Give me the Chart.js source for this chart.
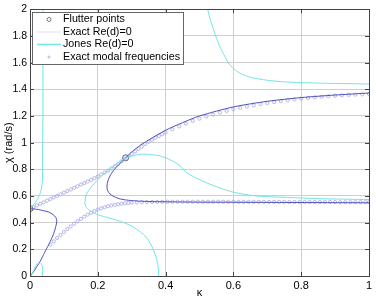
<!DOCTYPE html>
<html>
<head>
<meta charset="utf-8">
<script src="https://cdn.jsdelivr.net/npm/chart.js@4.4.1/dist/chart.umd.min.js"></script>
<style>
  html, body { margin: 0; padding: 0; background: #fff; }
  #wrap { width: 376px; height: 300px; }
</style>
</head>
<body>
<div id="wrap"><canvas id="flutter_chart" width="376" height="300"></canvas></div>
<script>
// values: kappa on x, chi (rad/s) on y

var flutterX = [0, 0.282];
var flutterY = [0.505, 0.886];

// Exact Re(d)=0, branch from the origin to the first flutter point
var exactLowX = [0, 0.01, 0.02, 0.03, 0.04, 0.05, 0.06, 0.07, 0.076, 0.079, 0.076, 0.068, 0.055, 0.04, 0.02, 0];
var exactLowY = [0, 0.03, 0.07, 0.11, 0.16, 0.21, 0.26, 0.32, 0.37, 0.41, 0.44, 0.46, 0.48, 0.49, 0.5, 0.505];

// Exact Re(d)=0, branch through the second flutter point
var exactHiX = [1, 0.9, 0.8, 0.7, 0.6, 0.5, 0.45, 0.4, 0.35, 0.325, 0.3, 0.282, 0.262, 0.246, 0.236, 0.23, 0.227, 0.229, 0.236, 0.248, 0.266, 0.29, 0.32, 0.36, 0.42, 0.5, 0.6, 0.7, 0.8, 0.9, 1];
var exactHiY = [1.372, 1.357, 1.338, 1.31, 1.268, 1.2, 1.15, 1.093, 1.02, 0.98, 0.93, 0.886, 0.835, 0.79, 0.75, 0.715, 0.675, 0.64, 0.615, 0.595, 0.578, 0.568, 0.562, 0.558, 0.556, 0.554, 0.553, 0.552, 0.551, 0.55, 0.549];

// Jones Re(d)=0
var jonesAX = [0.038, 0.038, 0.038, 0.037, 0.037, 0.036, 0.034, 0.03, 0.022, 0.012, 0.004, 0];
var jonesAY = [2.0, 1.6, 1.2, 0.9, 0.75, 0.7, 0.66, 0.62, 0.575, 0.54, 0.515, 0.505];
var jonesBX = [0.003, 0.012, 0.02, 0.03, 0.036, 0.037, 0.037];
var jonesBY = [0, 0.05, 0.09, 0.095, 0.08, 0.04, 0];
var jonesCX = [0.38, 0.378, 0.372, 0.36, 0.34, 0.318, 0.295, 0.266, 0.227, 0.197, 0.177, 0.165, 0.162, 0.167, 0.185, 0.207, 0.24, 0.276, 0.3, 0.325, 0.35, 0.384, 0.415, 0.443, 0.461, 0.49, 0.52, 0.56, 0.6, 0.658, 0.7, 0.756, 0.85, 1];
var jonesCY = [0, 0.07, 0.14, 0.22, 0.3, 0.345, 0.38, 0.41, 0.44, 0.462, 0.49, 0.52, 0.553, 0.616, 0.68, 0.74, 0.81, 0.876, 0.9, 0.913, 0.912, 0.9, 0.87, 0.826, 0.777, 0.735, 0.7, 0.66, 0.628, 0.603, 0.595, 0.59, 0.58, 0.573];
var jonesDX = [0.524, 0.532, 0.54, 0.548, 0.56, 0.572, 0.585, 0.6, 0.62, 0.65, 0.7, 0.75, 0.8, 0.9, 1];
var jonesDY = [2.0, 1.92, 1.86, 1.8, 1.72, 1.66, 1.6, 1.555, 1.52, 1.49, 1.468, 1.456, 1.45, 1.444, 1.44];

// Exact modal frequencies, upper branch
var modalHiX = [0, 0.01, 0.02, 0.03, 0.04, 0.05, 0.06, 0.07, 0.08, 0.09, 0.1, 0.11, 0.12, 0.13, 0.14, 0.15, 0.16, 0.17, 0.18, 0.19, 0.2,
  0.21, 0.22, 0.23, 0.24, 0.25, 0.26, 0.27, 0.28, 0.29, 0.3, 0.31, 0.32, 0.33, 0.34, 0.35, 0.36, 0.37, 0.38, 0.39, 0.4,
  0.42, 0.44, 0.46, 0.48, 0.5, 0.52, 0.54, 0.56, 0.58, 0.6, 0.62, 0.64, 0.66, 0.68, 0.7, 0.72, 0.74, 0.76, 0.78, 0.8,
  0.82, 0.84, 0.86, 0.88, 0.9, 0.92, 0.94, 0.96, 0.98, 1];
var modalHiY = [0.505, 0.517, 0.529, 0.541, 0.553, 0.565, 0.577, 0.589, 0.601, 0.613, 0.625, 0.637, 0.649, 0.661, 0.673, 0.685, 0.697, 0.709, 0.721, 0.734, 0.747,
  0.761, 0.775, 0.79, 0.806, 0.823, 0.841, 0.86, 0.88, 0.898, 0.915, 0.934, 0.952, 0.971, 0.99, 1.006, 1.022, 1.036, 1.05, 1.063, 1.076,
  1.1, 1.122, 1.143, 1.163, 1.18, 1.196, 1.211, 1.225, 1.238, 1.25, 1.261, 1.271, 1.28, 1.289, 1.297, 1.304, 1.311, 1.318, 1.324, 1.33,
  1.335, 1.34, 1.344, 1.348, 1.352, 1.355, 1.358, 1.36, 1.362, 1.364];

// Exact modal frequencies, lower branch
var modalLoX = [0.06, 0.07, 0.08, 0.09, 0.1, 0.11, 0.12, 0.13, 0.14, 0.15, 0.16, 0.17, 0.18, 0.19, 0.2, 0.21, 0.22, 0.23, 0.24, 0.25,
  0.26, 0.27, 0.28, 0.29, 0.3, 0.315, 0.33, 0.345, 0.36, 0.375, 0.39, 0.405, 0.42, 0.435, 0.45, 0.465, 0.48, 0.495, 0.51, 0.525,
  0.54, 0.555, 0.57, 0.585, 0.6, 0.615, 0.63, 0.645, 0.66, 0.675, 0.69, 0.705, 0.72, 0.735, 0.75, 0.765, 0.78, 0.795, 0.81, 0.825,
  0.84, 0.855, 0.87, 0.885, 0.9, 0.915, 0.93, 0.945, 0.96, 0.975, 0.99, 1];
var modalLoY = [0.235, 0.26, 0.285, 0.308, 0.33, 0.352, 0.372, 0.392, 0.411, 0.428, 0.445, 0.46, 0.474, 0.487, 0.498, 0.508, 0.516, 0.523, 0.529, 0.534,
  0.538, 0.542, 0.545, 0.548, 0.55, 0.552, 0.553, 0.554, 0.555, 0.556, 0.556, 0.557, 0.557, 0.557, 0.557, 0.557, 0.557, 0.557, 0.557, 0.557,
  0.557, 0.557, 0.557, 0.557, 0.557, 0.556, 0.556, 0.556, 0.556, 0.556, 0.556, 0.556, 0.556, 0.556, 0.556, 0.555, 0.555, 0.555, 0.555, 0.555,
  0.555, 0.555, 0.555, 0.555, 0.555, 0.554, 0.554, 0.554, 0.554, 0.554, 0.554, 0.554];

var xTicks = [0, 0.2, 0.4, 0.6, 0.8, 1];
var yTicks = [0, 0.2, 0.4, 0.6, 0.8, 1, 1.2, 1.4, 1.6, 1.8, 2];

function pts(xs, ys) {
    return xs.map(function (x, i) { return { x: x, y: ys[i] }; });
}

var FONT = '"Liberation Sans", Arial, sans-serif';
var cyan = '#72e4e4';
var exactBlue = '#5050bc';
var modalBlue = '#a4a4e4';

function line(label, xs, ys, color) {
    return {
        label: label, data: pts(xs, ys), showLine: true,
        borderColor: color, borderWidth: 1, pointRadius: 0, tension: 0.25, fill: false
    };
}

function circles(label, xs, ys, color, r) {
    return {
        label: label, data: pts(xs, ys), showLine: false,
        pointRadius: r, pointBorderWidth: 0.8, borderColor: color, backgroundColor: 'rgba(0,0,0,0)'
    };
}

var datasets = [
    line('Jones Re(d)=0', jonesAX, jonesAY, cyan),
    line('Jones Re(d)=0', jonesBX, jonesBY, cyan),
    line('Jones Re(d)=0', jonesCX, jonesCY, cyan),
    line('Jones Re(d)=0', jonesDX, jonesDY, cyan),
    line('Exact Re(d)=0', exactLowX, exactLowY, exactBlue),
    line('Exact Re(d)=0', exactHiX, exactHiY, exactBlue),
    circles('Exact modal frequencies', modalHiX, modalHiY, modalBlue, 1.6),
    circles('Exact modal frequencies', modalLoX, modalLoY, modalBlue, 1.6),
    circles('Flutter points', flutterX, flutterY, '#333', 3)
];

// white page, axes box with inward ticks, and the boxed legend
var frame = {
    id: 'frame',
    beforeDraw: function (chart) {
        var ctx = chart.ctx;
        ctx.save();
        ctx.fillStyle = '#fff';
        ctx.fillRect(0, 0, chart.width, chart.height);
        ctx.restore();
    },
    afterDraw: function (chart) {
        var ctx = chart.ctx, a = chart.chartArea;
        var xs = chart.scales.x, ys = chart.scales.y;
        ctx.save();
        ctx.strokeStyle = '#444';
        ctx.lineWidth = 1;
        ctx.strokeRect(Math.round(a.left) + 0.5, Math.round(a.top) + 0.5, Math.round(a.right - a.left), Math.round(a.bottom - a.top));
        ctx.beginPath();
        xTicks.forEach(function (v) {
            var px = Math.round(xs.getPixelForValue(v)) + 0.5;
            ctx.moveTo(px, a.bottom); ctx.lineTo(px, a.bottom - 4);
            ctx.moveTo(px, a.top); ctx.lineTo(px, a.top + 4);
        });
        yTicks.forEach(function (v) {
            var py = Math.round(ys.getPixelForValue(v)) + 0.5;
            ctx.moveTo(a.left, py); ctx.lineTo(a.left + 4, py);
            ctx.moveTo(a.right, py); ctx.lineTo(a.right - 4, py);
        });
        ctx.stroke();

        // legend
        var bx = 32.5, by = 12.5, bw = 151, bh = 52;
        ctx.fillStyle = '#fff';
        ctx.fillRect(bx, by, bw, bh);
        ctx.strokeStyle = '#666';
        ctx.strokeRect(bx, by, bw, bh);
        var rows = [
            { text: 'Flutter points', kind: 'flutter' },
            { text: 'Exact Re(d)=0', kind: 'exact' },
            { text: 'Jones Re(d)=0', kind: 'jones' },
            { text: 'Exact modal frequencies', kind: 'modal' }
        ];
        ctx.font = '10.7px ' + FONT;
        ctx.textBaseline = 'middle';
        rows.forEach(function (r, i) {
            var y = 19.5 + i * 12.5;
            if (r.kind === 'flutter') {
                ctx.strokeStyle = '#555'; ctx.lineWidth = 0.8;
                ctx.beginPath(); ctx.arc(49, y, 2, 0, Math.PI * 2); ctx.stroke();
            } else if (r.kind === 'exact') {
                ctx.strokeStyle = '#e0e0f0'; ctx.lineWidth = 1;
                ctx.beginPath(); ctx.moveTo(37, y); ctx.lineTo(61, y); ctx.stroke();
            } else if (r.kind === 'jones') {
                ctx.strokeStyle = cyan; ctx.lineWidth = 1.5;
                ctx.beginPath(); ctx.moveTo(37, y); ctx.lineTo(61, y); ctx.stroke();
            } else {
                ctx.strokeStyle = modalBlue; ctx.lineWidth = 0.8;
                ctx.beginPath(); ctx.arc(49, y, 1, 0, Math.PI * 2); ctx.stroke();
            }
            ctx.fillStyle = '#000';
            ctx.fillText(r.text, 63, y);
        });
        ctx.restore();
    }
};

var config = {
    type: 'scatter',
    data: { datasets: datasets },
    options: {
        responsive: false,
        animation: false,
        devicePixelRatio: 1,
        layout: { padding: { top: 7, right: 7, left: 0, bottom: 0 } },
        plugins: { legend: { display: false }, tooltip: { enabled: false } },
        scales: {
            x: {
                type: 'linear', min: 0, max: 1,
                afterFit: function (s) { s.height = 24; },
                afterBuildTicks: function (s) { s.ticks = xTicks.map(function (v) { return { value: v }; }); },
                ticks: { padding: 3, color: '#000', font: { size: 11, family: FONT }, maxRotation: 0,
                    callback: function (v) { return String(Math.round(v * 10) / 10); } },
                grid: { color: '#cfcfcf', drawTicks: false },
                border: { display: false },
                title: { display: true, text: 'κ', color: '#000', font: { size: 11, family: FONT }, padding: { top: 0, bottom: 0 } }
            },
            y: {
                type: 'linear', min: 0, max: 2,
                afterFit: function (s) { s.width = 30; },
                afterBuildTicks: function (s) { s.ticks = yTicks.map(function (v) { return { value: v }; }); },
                ticks: { padding: 3, color: '#000', font: { size: 10.5, family: FONT },
                    callback: function (v) { return String(Math.round(v * 10) / 10); } },
                grid: { color: '#cfcfcf', drawTicks: false },
                border: { display: false },
                title: { display: true, text: 'χ (rad/s)', color: '#000', font: { size: 11, family: FONT }, padding: { top: 2, bottom: 0 } }
            }
        }
    },
    plugins: [frame]
};

var ctx = document.getElementById('flutter_chart').getContext('2d');
window.flutterChart = new Chart(ctx, config);
</script>
</body>
</html>
